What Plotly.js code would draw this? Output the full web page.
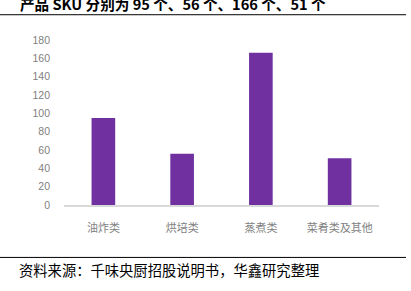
<!DOCTYPE html>
<html><head><meta charset="utf-8">
<script src="https://cdn.plot.ly/plotly-3.0.1.min.js"></script>
<style>html,body{margin:0;padding:0;background:#fff}#c{width:411px;height:291px}</style>
</head><body><div id="c"></div>
<script>
const categories = ['油炸类', '烘培类', '蒸煮类', '菜肴类及其他'];
const skuCounts = [95, 56, 166, 51];
const yTicks = [0, 20, 40, 60, 80, 100, 120, 140, 160, 180];
const titleText = '产品 SKU 分别为 95 个、56 个、166 个、51 个';
const sourceText = '资料来源：千味央厨招股说明书，华鑫研究整理';

const L = 64, R = 379, T = 40.3, B = 205.5;
const W = R - L, H = B - T;
const px = X => (X - L) / W;
const py = Y => (B - Y) / H;

const trace = {
  type: 'bar', x: categories, y: skuCounts, width: 0.3,
  marker: {color: '#7030A0'}, hoverinfo: 'none'
};
const layout = {
  width: 411, height: 291,
  margin: {l: L, r: 411 - R, t: T, b: 291 - B, pad: 0},
  paper_bgcolor: '#fff', plot_bgcolor: '#fff',
  showlegend: false,
  xaxis: {
    type: 'category', showgrid: false, zeroline: false,
    showline: true, linecolor: '#d9d9d9', linewidth: 1.5,
    ticks: '', ticklabelstandoff: 12,
    tickfont: {family: 'Noto Sans CJK SC', size: 11, color: '#7f7f7f'}
  },
  yaxis: {
    range: [0, 180], tickvals: yTicks, showgrid: false, zeroline: false,
    showline: false, ticks: '', ticklabelstandoff: 13,
    tickfont: {family: 'Liberation Sans', size: 10.5, color: '#7f7f7f'}
  },
  shapes: [
    {type: 'line', xref: 'paper', yref: 'paper', x0: px(0), x1: px(406), y0: py(15), y1: py(15), line: {color: '#000', width: 1}},
    {type: 'line', xref: 'paper', yref: 'paper', x0: px(0), x1: px(406), y0: py(258), y1: py(258), line: {color: '#000', width: 1}}
  ],
  annotations: [
    {text: '<b>' + titleText + '</b>', xref: 'paper', yref: 'paper', x: px(18), y: py(4), xanchor: 'left', yanchor: 'middle', showarrow: false,
     font: {family: 'Noto Sans CJK SC', size: 14.6, color: '#000'}},
    {text: sourceText, xref: 'paper', yref: 'paper', x: px(17), y: py(270), xanchor: 'left', yanchor: 'middle', showarrow: false,
     font: {family: 'Noto Sans CJK SC', size: 14.3, color: '#000'}}
  ]
};
Plotly.newPlot('c', [trace], layout, {staticPlot: true, displayModeBar: false});
</script></body></html>
